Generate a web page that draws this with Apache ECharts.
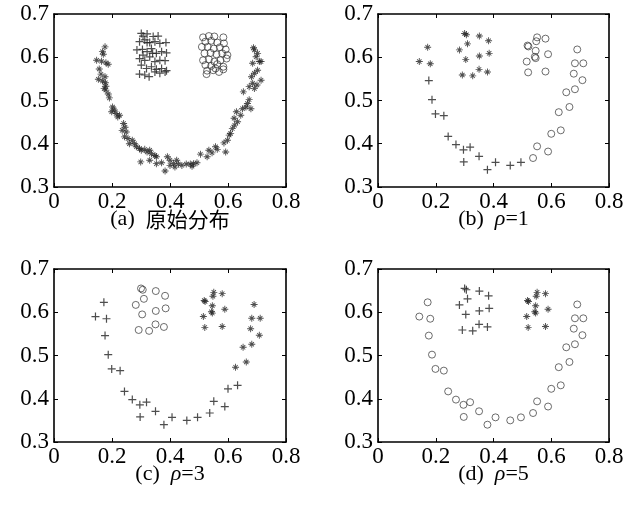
<!DOCTYPE html>
<html>
<head>
<meta charset="utf-8">
<script src="https://cdn.jsdelivr.net/npm/echarts@6/dist/echarts.min.js"></script>
<style>
  html, body { margin: 0; padding: 0; background: #fff; }
  #main { width: 638px; height: 506px; }
</style>
</head>
<body>
<div id="main"></div>
<script>
// axis ticks shared by all four panels
const xTicks = [0, 0.2, 0.4, 0.6, 0.8];
const yTicks = [0.3, 0.4, 0.5, 0.6, 0.7];

// (a) original distribution: arc (*), left cluster (+), right cluster (o)
const aStar = [
  [0.176,0.624],[0.167,0.613],[0.170,0.607],[0.147,0.593],[0.164,0.591],[0.179,0.587],[0.187,0.584],
  [0.156,0.573],[0.162,0.561],[0.176,0.555],[0.153,0.549],[0.167,0.545],[0.177,0.541],[0.179,0.533],
  [0.173,0.528],[0.179,0.524],[0.187,0.515],[0.191,0.506],[0.202,0.485],[0.208,0.478],[0.199,0.474],
  [0.214,0.470],[0.226,0.466],[0.220,0.462],[0.240,0.447],[0.245,0.438],[0.235,0.431],[0.249,0.427],
  [0.243,0.416],[0.255,0.412],[0.260,0.400],[0.270,0.408],[0.278,0.400],[0.284,0.393],[0.295,0.389],
  [0.301,0.385],[0.313,0.387],[0.321,0.381],[0.330,0.385],[0.336,0.377],[0.348,0.373],[0.353,0.370],
  [0.299,0.358],[0.330,0.362],[0.353,0.354],[0.371,0.356],[0.383,0.337],[0.391,0.370],[0.400,0.362],
  [0.412,0.354],[0.423,0.362],[0.429,0.353],[0.441,0.350],[0.456,0.353],[0.470,0.353],[0.481,0.354],
  [0.493,0.356],[0.400,0.350],[0.417,0.346],[0.476,0.348],[0.505,0.376],[0.528,0.370],[0.534,0.385],
  [0.545,0.379],[0.557,0.393],[0.563,0.387],[0.592,0.381],[0.586,0.402],[0.598,0.408],[0.604,0.420],
  [0.609,0.424],[0.615,0.435],[0.623,0.443],[0.633,0.451],[0.621,0.459],[0.629,0.474],[0.644,0.466],
  [0.650,0.481],[0.662,0.485],[0.667,0.493],[0.673,0.502],[0.679,0.481],[0.653,0.520],[0.673,0.532],
  [0.685,0.540],[0.691,0.528],[0.700,0.536],[0.714,0.547],[0.681,0.555],[0.691,0.563],[0.702,0.570],
  [0.685,0.586],[0.708,0.590],[0.697,0.601],[0.691,0.617],[0.702,0.609],[0.714,0.590],[0.688,0.622]
];
const aPlus = [
  [0.301,0.655],[0.307,0.649],[0.321,0.654],[0.342,0.648],[0.359,0.649],[0.295,0.636],[0.313,0.640],
  [0.330,0.634],[0.348,0.636],[0.365,0.632],[0.386,0.634],[0.286,0.617],[0.305,0.618],[0.321,0.613],
  [0.336,0.620],[0.353,0.609],[0.371,0.613],[0.388,0.610],[0.295,0.597],[0.313,0.593],[0.330,0.601],
  [0.348,0.590],[0.365,0.593],[0.383,0.592],[0.301,0.582],[0.319,0.574],[0.336,0.578],[0.353,0.572],
  [0.371,0.574],[0.388,0.569],[0.295,0.561],[0.313,0.559],[0.328,0.555],[0.348,0.566],[0.365,0.563],
  [0.383,0.566],[0.307,0.605],[0.340,0.609],[0.321,0.634]
];
const aCircle = [
  [0.514,0.646],[0.534,0.649],[0.553,0.648],[0.584,0.646],[0.522,0.636],[0.542,0.638],[0.563,0.634],
  [0.586,0.632],[0.510,0.624],[0.530,0.624],[0.551,0.620],[0.572,0.623],[0.592,0.618],[0.519,0.609],
  [0.540,0.610],[0.560,0.607],[0.580,0.609],[0.598,0.605],[0.514,0.593],[0.534,0.595],[0.553,0.590],
  [0.574,0.593],[0.595,0.597],[0.522,0.582],[0.542,0.580],[0.563,0.584],[0.584,0.578],[0.528,0.569],
  [0.549,0.570],[0.569,0.566],[0.584,0.572],[0.526,0.561],[0.557,0.574]
];

// (b)-(d) the same sampled points, clustered with different rho
const pts = [
  // left top three
  [0.172,0.623],[0.143,0.590],[0.181,0.585],
  // upper-left block
  [0.300,0.655],[0.306,0.652],[0.310,0.631],[0.282,0.617],[0.304,0.595],[0.351,0.649],[0.383,0.638],
  [0.351,0.603],[0.385,0.609],[0.350,0.572],[0.292,0.559],[0.328,0.557],[0.379,0.566],
  // upper-right block
  [0.551,0.646],[0.580,0.643],[0.548,0.637],[0.518,0.627],[0.521,0.625],[0.546,0.615],[0.589,0.607],
  [0.546,0.598],[0.543,0.601],[0.515,0.590],[0.520,0.565],[0.580,0.567],
  // right arm, upper part
  [0.690,0.618],[0.682,0.586],[0.711,0.586],[0.678,0.562],[0.708,0.547],[0.682,0.526],[0.652,0.519],
  [0.663,0.485],[0.626,0.473],
  // right arm, lower part
  [0.633,0.431],[0.600,0.423],[0.551,0.394],[0.589,0.382],[0.537,0.367],
  // bottom and left arm
  [0.495,0.357],[0.458,0.350],[0.407,0.357],[0.379,0.340],[0.350,0.371],[0.297,0.358],[0.319,0.392],
  [0.296,0.386],[0.270,0.398],[0.243,0.417],[0.228,0.465],[0.199,0.469],[0.187,0.502],[0.176,0.546]
];
const labelB = ['***', '*************', 'oooooooooooo', 'ooooooooo', 'ooooo', '++++++++++++++'].join('');
const labelC = ['+++', 'ooooooooooooo', '************', '*********', '+++++', '++++++++++++++'].join('');
const labelD = ['ooo', '+++++++++++++', '************', 'ooooooooo', 'ooooo', 'oooooooooooooo'].join('');

const captions = ['(a)  {c|原始分布}', '(b)  {i|ρ}=1', '(c)  {i|ρ}=3', '(d)  {i|ρ}=5'];

const FONT = 'Liberation Serif';
const CJK = 'Noto Sans CJK SC';
const grids = [
  { left: 54, top: 14, width: 232, height: 173 },
  { left: 378, top: 14, width: 231, height: 173 },
  { left: 54, top: 269, width: 232, height: 173 },
  { left: 378, top: 269, width: 231, height: 173 }
];

const plusPath = 'path://M-1.5,-10L1.5,-10L1.5,-1.5L10,-1.5L10,1.5L1.5,1.5L1.5,10L-1.5,10L-1.5,1.5L-10,1.5L-10,-1.5L-1.5,-1.5Z';
const starPath = 'path://M-1.3,-10L1.3,-10L1.3,10L-1.3,10Z M-10,-1.3L10,-1.3L10,1.3L-10,1.3Z' +
  ' M-7.1,-5.3L-5.3,-7.1L7.1,5.3L5.3,7.1Z M5.3,-7.1L7.1,-5.3L-5.3,7.1L-7.1,5.3Z';

function pick(labels, ch) {
  return pts.filter((p, i) => labels[i] === ch);
}

const panels = [
  { star: aStar, plus: aPlus, circle: aCircle },
  { star: pick(labelB, '*'), plus: pick(labelB, '+'), circle: pick(labelB, 'o') },
  { star: pick(labelC, '*'), plus: pick(labelC, '+'), circle: pick(labelC, 'o') },
  { star: pick(labelD, '*'), plus: pick(labelD, '+'), circle: pick(labelD, 'o') }
];

const xAxis = [], yAxis = [], series = [], graphic = [];
grids.forEach((g, i) => {
  const base = {
    type: 'value', gridIndex: i, splitLine: { show: false },
    axisLine: { show: true, onZero: false, lineStyle: { color: '#000', width: 1.6 } },
    axisTick: { show: true, inside: true, length: 4, lineStyle: { color: '#000' } }
  };
  const lab = {
    show: true, color: '#000', margin: 5,
    formatter: v => '{n|' + (v === 0 ? '0' : v.toFixed(1)) + '}',
    rich: { n: { fontFamily: FONT, fontSize: 23, color: '#000' } }
  };
  xAxis.push(Object.assign({}, base, { position: 'bottom', min: xTicks[0], max: xTicks[xTicks.length - 1],
    interval: 0.2, axisLabel: Object.assign({}, lab, { margin: 3 }) }));
  xAxis.push(Object.assign({}, base, { position: 'top', min: xTicks[0], max: xTicks[xTicks.length - 1],
    interval: 0.2, axisLabel: { show: false } }));
  yAxis.push(Object.assign({}, base, { position: 'left', min: yTicks[0], max: yTicks[yTicks.length - 1],
    interval: 0.1, axisLabel: lab }));
  yAxis.push(Object.assign({}, base, { position: 'right', min: yTicks[0], max: yTicks[yTicks.length - 1],
    interval: 0.1, axisLabel: { show: false } }));

  const p = panels[i];
  const common = { type: 'scatter', xAxisIndex: 2 * i, yAxisIndex: 2 * i, silent: true };
  series.push(Object.assign({}, common, { data: p.star, symbol: starPath, symbolSize: 7,
    itemStyle: { color: '#222' } }));
  series.push(Object.assign({}, common, { data: p.plus, symbol: plusPath, symbolSize: 8,
    itemStyle: { color: '#222' } }));
  series.push(Object.assign({}, common, { data: p.circle, symbol: 'circle', symbolSize: 7,
    itemStyle: { color: 'rgba(0,0,0,0)', borderColor: '#333', borderWidth: 0.9 } }));

  graphic.push({
    type: 'text', x: g.left + g.width / 2, y: g.top + g.height + 32,
    style: {
      text: captions[i], fill: '#000', fontFamily: FONT, fontSize: 22,
      align: 'center', verticalAlign: 'middle', textAlign: 'center', textVerticalAlign: 'middle',
      rich: {
        i: { fontStyle: 'italic', fontSize: 22, fontFamily: FONT },
        c: { fontSize: 21, fontFamily: CJK }
      }
    }
  });
});

const chart = echarts.init(document.getElementById('main'));
chart.setOption({
  animation: false,
  backgroundColor: '#fff',
  textStyle: { fontFamily: FONT },
  grid: grids,
  xAxis: xAxis,
  yAxis: yAxis,
  series: series,
  graphic: graphic
});
</script>
</body>
</html>
